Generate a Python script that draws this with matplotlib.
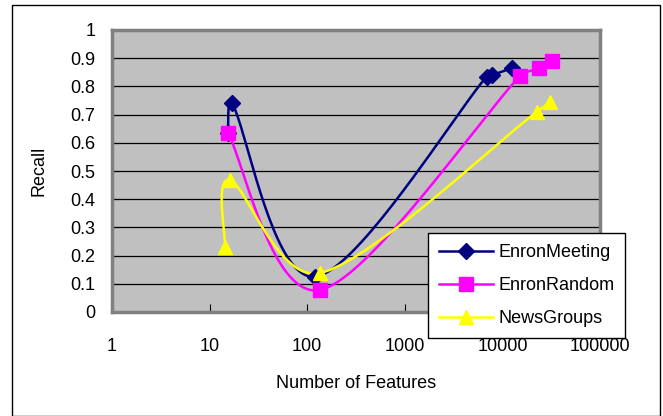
import numpy as np
import matplotlib.pyplot as plt
from matplotlib.patches import Rectangle

plt.rcParams['font.family'] = ['Liberation Sans', 'DejaVu Sans']

# data
meeting_x = [15.4, 17, 120, 6900, 7800, 12600]
meeting_y = [0.635, 0.74, 0.125, 0.835, 0.84, 0.865]
random_x = [15.4, 135, 15200, 23700, 32200]
random_y = [0.635, 0.078, 0.837, 0.865, 0.89]
news_x = [14.4, 16.2, 135, 22500, 30800]
news_y = [0.23, 0.468, 0.138, 0.71, 0.745]


def smooth(xs, ys, n=40):
    # excel-like smoothed line: catmull-rom bezier in screen-like units (log x),
    # control arms clamped on short segments so there are no loops
    sc = np.array([97.6, 282.0])
    p = np.column_stack([np.log10(xs), ys]) * sc
    m = len(p)
    tang = [(p[min(i + 1, m - 1)] - p[max(i - 1, 0)]) / 6 for i in range(m)]

    def arm(t, L):
        nt = np.hypot(*t)
        lim = L / 3
        return t * (lim / nt) if nt > lim else t

    out = []
    for i in range(m - 1):
        p1, p2 = p[i], p[i + 1]
        L = np.hypot(*(p2 - p1))
        c1 = p1 + arm(tang[i], L)
        c2 = p2 - arm(tang[i + 1], L)
        t = np.linspace(0, 1, n)[:, None]
        seg = (1 - t) ** 3 * p1 + 3 * (1 - t) ** 2 * t * c1 + 3 * (1 - t) * t ** 2 * c2 + t ** 3 * p2
        out.append(seg)
    out = np.vstack(out) / sc
    return 10 ** out[:, 0], out[:, 1]


fig = plt.figure(figsize=(6.63, 4.16), dpi=100)
fig.patches.append(Rectangle((12 / 663, 0), 648 / 663, 411 / 416, transform=fig.transFigure,
                             fill=False, edgecolor='black', linewidth=1))
ax = fig.add_axes([112 / 663, 1 - 312 / 416, 488 / 663, 282 / 416])
ax.set_facecolor('#C0C0C0')

series = [
    (meeting_x, meeting_y, '#000080', 'D', 8, 'EnronMeeting'),
    (random_x, random_y, '#FF00FF', 's', 10, 'EnronRandom'),
    (news_x, news_y, '#FFFF00', '^', 10, 'NewsGroups'),
]
for xs, ys, col, mk, ms, lab in series:
    sx, sy = smooth(xs, ys)
    ax.plot(sx, sy, color=col, lw=1.8, zorder=3)
    ax.plot(xs, ys, linestyle='none', marker=mk, markersize=ms, color=col, zorder=4)
    ax.plot([], [], color=col, lw=1.8, marker=mk, markersize=ms, label=lab)

ax.set_xscale('log')
ax.set_xlim(1, 100000)
ax.set_ylim(0, 1)
ax.set_xticks([1, 10, 100, 1000, 10000, 100000])
ax.set_xticklabels(['1', '10', '100', '1000', '10000', '100000'])
ax.xaxis.set_minor_locator(plt.NullLocator())
ax.set_yticks(np.arange(0, 1.01, 0.1))
ax.set_yticklabels(['0', '0.1', '0.2', '0.3', '0.4', '0.5', '0.6', '0.7', '0.8', '0.9', '1'])
ax.yaxis.grid(True, color='black', lw=0.9)
ax.set_axisbelow(True)
ax.tick_params(axis='x', direction='in', length=6, pad=19, labelsize=13)
ax.tick_params(axis='y', direction='in', length=5, pad=12, labelsize=13)
for s in ax.spines.values():
    s.set_color('#808080')
    s.set_linewidth(2.5)

ax.set_xlabel('Number of Features', fontsize=13, labelpad=14)
ax.set_ylabel('Recall', fontsize=13, labelpad=16)

leg = ax.legend(loc='upper left', bbox_to_anchor=(316 / 488, 1 - 203 / 282), fontsize=13,
                frameon=True, fancybox=False, edgecolor='black', framealpha=1,
                borderpad=0.6, labelspacing=0.9, handlelength=3.0, handletextpad=0.3,
                borderaxespad=0)
leg.get_frame().set_linewidth(1)
leg.set_zorder(5)

plt.savefig('out.png', dpi=100)
